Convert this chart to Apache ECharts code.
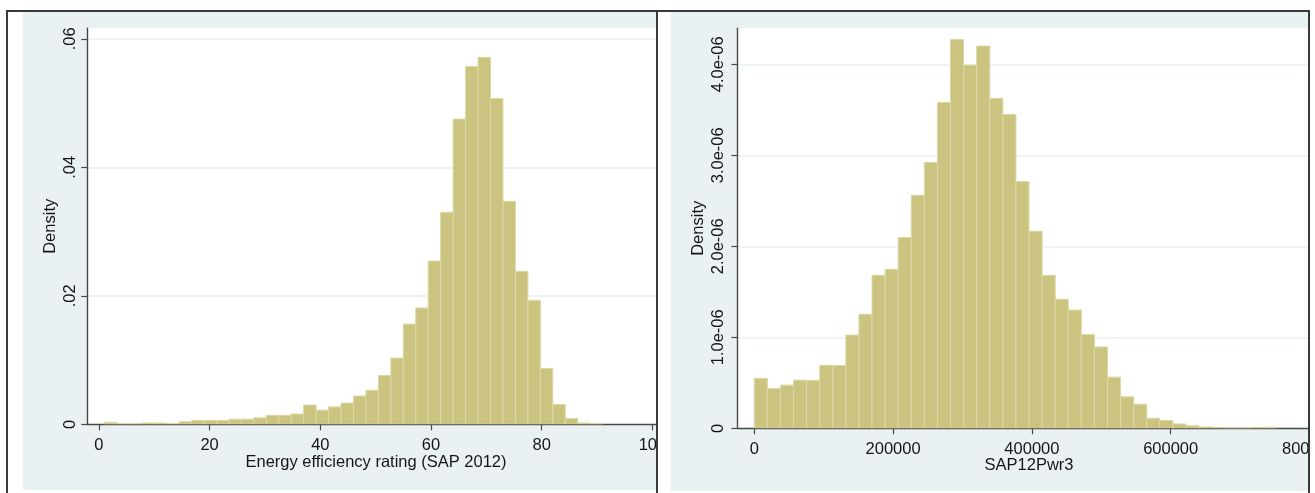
<!DOCTYPE html>
<html>
<head>
<meta charset="utf-8">
<script src="https://cdn.jsdelivr.net/npm/echarts@6/dist/echarts.min.js"></script>
<style>
  html, body { margin: 0; padding: 0; background: #ffffff; }
  body { position: relative; width: 1315px; height: 493px; overflow: hidden; }
  .clip { position: absolute; overflow: hidden; }
  .rule { position: absolute; background: #3a3a3a; z-index: 5; }
</style>
</head>
<body>
<div class="clip" style="left:0;top:0;width:656px;height:493px">
  <div id="left" style="position:absolute;left:0;top:0;width:700px;height:493px"></div>
</div>
<div class="clip" style="left:658px;top:0;width:650px;height:493px">
  <div id="right" style="position:absolute;left:-658px;top:0;width:1400px;height:493px"></div>
</div>
<div class="rule" style="left:6px;top:10px;width:1304px;height:2px"></div>
<div class="rule" style="left:6px;top:10px;width:2px;height:483px"></div>
<div class="rule" style="left:656px;top:10px;width:1.5px;height:483px"></div>
<div class="rule" style="left:1308px;top:10px;width:2px;height:483px"></div>

<script>
// Histogram 1: Energy efficiency rating (SAP 2012), 40 bins of width 2.25 starting at 1
const sapBinStart = 1;
const sapBinWidth = 2.25;
const sapDensity = [
  0.0003, 0.0001, 0.0001, 0.0002, 0.0002, 0.0001, 0.0004, 0.0006, 0.0006, 0.0006,
  0.0008, 0.0008, 0.0010, 0.0014, 0.0014, 0.0016, 0.0030, 0.0022, 0.0027, 0.0033,
  0.0044, 0.0053, 0.0076, 0.0103, 0.0156, 0.0181, 0.0254, 0.0330, 0.0475, 0.0557,
  0.0571, 0.0507, 0.0347, 0.0238, 0.0193, 0.0087, 0.0031, 0.0009, 0.0002, 0.0001
];
const sapXTicks = [0, 20, 40, 60, 80, 100];
const sapYTicks = [0, 0.02, 0.04, 0.06];
const sapYTickLabels = ['0', '.02', '.04', '.06'];

// Histogram 2: SAP12Pwr3, 40 bins of width 18850 starting at 0
const pwrBinStart = 0;
const pwrBinWidth = 18850;
const pwrDensity = [
  0.549e-6, 0.436e-6, 0.474e-6, 0.529e-6, 0.526e-6, 0.692e-6, 0.690e-6, 1.024e-6, 1.253e-6, 1.681e-6,
  1.747e-6, 2.097e-6, 2.560e-6, 2.921e-6, 3.582e-6, 4.273e-6, 3.991e-6, 4.201e-6, 3.626e-6, 3.449e-6,
  2.711e-6, 2.165e-6, 1.681e-6, 1.418e-6, 1.299e-6, 1.031e-6, 0.894e-6, 0.562e-6, 0.346e-6, 0.264e-6,
  0.110e-6, 0.086e-6, 0.048e-6, 0.028e-6, 0.015e-6, 0.011e-6, 0, 0, 0.011e-6, 0.011e-6
];
const pwrXTicks = [0, 200000, 400000, 600000, 800000];
const pwrYTicks = [0, 1e-6, 2e-6, 3e-6, 4e-6];
const pwrYTickLabels = ['0', '1.0e-06', '2.0e-06', '3.0e-06', '4.0e-06'];

const FONT = "'Liberation Sans', Arial, sans-serif";
const FS = 16.5;
const TEXT = '#151515';
const AXIS = '#474747';
const PANEL_BG = '#eaf1f2';
const GRID_LINE = '#e8f0f1';
const BAR_FILL = '#cbc480';
const BAR_EDGE = '#dcd8a2';

function bins(start, width, dens) {
  return dens.map((d, i) => [start + i * width, start + (i + 1) * width, d]);
}

function labelFor(ticks, labels) {
  return function (v) {
    for (let i = 0; i < ticks.length; i++) {
      if (Math.abs(v - ticks[i]) <= Math.abs(ticks[ticks.length - 1]) * 1e-6) return labels[i];
    }
    return '';
  };
}

function histOption(cfg) {
  return {
    animation: false,
    graphic: [{
      type: 'rect', silent: true, z: -10,
      shape: { x: cfg.bg[0], y: cfg.bg[1], width: cfg.bg[2], height: cfg.bg[3] },
      style: { fill: PANEL_BG }
    }],
    grid: {
      show: true, backgroundColor: '#ffffff', borderWidth: 0,
      left: cfg.grid[0], top: cfg.grid[1], right: cfg.grid[2], bottom: cfg.grid[3]
    },
    xAxis: {
      type: 'value', min: cfg.xMin, max: cfg.xMax,
      name: cfg.xName, nameLocation: 'middle', nameGap: cfg.xNameGap,
      nameMoveOverlap: false,
      nameTextStyle: { fontFamily: FONT, fontSize: FS, color: TEXT },
      axisLine: { show: true, onZero: false, lineStyle: { color: AXIS, width: 1.4 } },
      axisTick: { show: true, length: 6, customValues: cfg.xTicks, lineStyle: { color: AXIS, width: 1.2 } },
      axisLabel: {
        customValues: cfg.xTicks, margin: 13,
        fontFamily: FONT, fontSize: FS, color: TEXT,
        formatter: function (v) { return String(v); }
      },
      splitLine: { show: false }
    },
    yAxis: {
      type: 'value', min: 0, max: cfg.yMax, interval: cfg.yTicks[1],
      name: 'Density', nameLocation: 'middle', nameGap: cfg.yNameGap,
      nameMoveOverlap: false,
      nameTextStyle: { fontFamily: FONT, fontSize: FS, color: TEXT },
      axisLine: { show: true, onZero: false, lineStyle: { color: AXIS, width: 1.4 } },
      axisTick: { show: true, length: 6, customValues: cfg.yTicks, lineStyle: { color: AXIS, width: 1.2 } },
      axisLabel: {
        customValues: cfg.yTicks, rotate: 90, margin: cfg.yLabelMargin,
        fontFamily: FONT, fontSize: FS, color: TEXT,
        formatter: labelFor(cfg.yTicks, cfg.yLabels)
      },
      splitLine: { show: true, lineStyle: { color: GRID_LINE, width: 1.6 } }
    },
    series: [{
      type: 'custom',
      clip: true,
      data: cfg.data,
      encode: { x: [0, 1], y: 2 },
      renderItem: function (params, api) {
        const a = api.coord([api.value(0), api.value(2)]);
        const b = api.coord([api.value(1), 0]);
        return {
          type: 'rect',
          shape: { x: a[0], y: a[1], width: b[0] - a[0], height: b[1] - a[1] },
          style: { fill: BAR_FILL, stroke: BAR_EDGE, lineWidth: 1 }
        };
      }
    }]
  };
}

const leftChart = echarts.init(document.getElementById('left'), null, { renderer: 'canvas' });
leftChart.setOption(histOption({
  bg: [22.7, 11.7, 700, 478.3],
  grid: [87.3, 28.3, 35.3, 68.7],
  xMin: -2.096, xMax: 102.22,
  xName: 'Energy efficiency rating (SAP 2012)', xNameGap: 29.5,
  xTicks: sapXTicks,
  yMax: 0.06163, yTicks: sapYTicks, yLabels: sapYTickLabels,
  yLabelMargin: 8, yNameGap: 28,
  data: bins(sapBinStart, sapBinWidth, sapDensity)
}));

const rightChart = echarts.init(document.getElementById('right'), null, { renderer: 'canvas' });
rightChart.setOption(histOption({
  bg: [670.7, 11.7, 800, 479.3],
  grid: [737.4, 28.3, 79.4, 64.7],
  xMin: -24352, xMax: 816000,
  xName: 'SAP12Pwr3', xNameGap: 28.5,
  xTicks: pwrXTicks,
  yMax: 4.3956e-6, yTicks: pwrYTicks, yLabels: pwrYTickLabels,
  yLabelMargin: 10, yNameGap: 30,
  data: bins(pwrBinStart, pwrBinWidth, pwrDensity)
}));
</script>
</body>
</html>
